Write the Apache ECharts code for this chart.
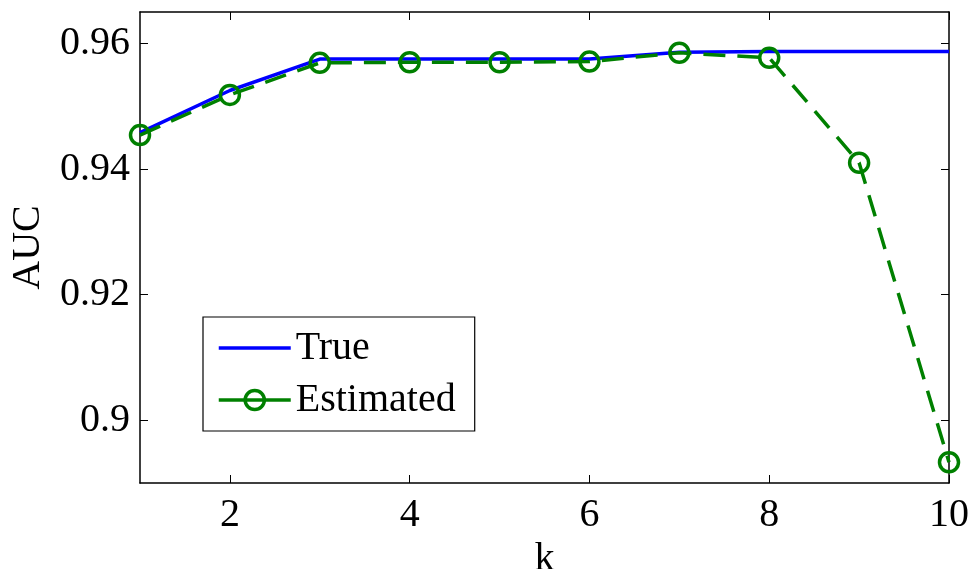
<!DOCTYPE html>
<html>
<head>
<meta charset="utf-8">
<script src="https://cdn.jsdelivr.net/npm/echarts@6/dist/echarts.min.js"></script>
<style>
html,body{margin:0;padding:0;background:#fff;}
#c{width:972px;height:569px;}
</style>
</head>
<body>
<div id="c"></div>
<script>
var kValues = [1, 2, 3, 4, 5, 6, 7, 8, 9, 10];
var trueAUC = [0.9458, 0.9525, 0.9575, 0.9575, 0.9575, 0.9575, 0.9586, 0.9587, 0.9587, 0.9587];
var estimatedAUC = [0.9454, 0.9518, 0.9569, 0.9570, 0.9570, 0.9571, 0.9585, 0.9577, 0.9410, 0.8933];
var xTicks = [2, 4, 6, 8, 10];
var yTicks = [0.9, 0.92, 0.94, 0.96];
var yTickLabels = ['0.9', '0.92', '0.94', '0.96'];

var FONT = 'Liberation Serif';
var chart = echarts.init(document.getElementById('c'), null, {renderer: 'canvas'});

function pairs(ys) { return kValues.map(function (k, i) { return [k, ys[i]]; }); }

var axisLineStyle = {show: true, onZero: false, lineStyle: {color: '#000', width: 1.5}};

chart.setOption({
  animation: false,
  backgroundColor: '#fff',
  grid: {left: 140, right: 23, top: 12, bottom: 86, containLabel: false, outerBoundsMode: 'none'},
  legend: {
    orient: 'vertical',
    left: 203, top: 317,
    borderColor: '#000', borderWidth: 1.2,
    padding: [11, 19, 11, 14],
    itemWidth: 72, itemHeight: 24, itemGap: 12,
    textStyle: {fontFamily: FONT, fontSize: 40, color: '#000'},
    data: [
      {name: 'True', itemStyle: {opacity: 0, color: 'transparent', borderColor: 'transparent'}, lineStyle: {width: 3.5}},
      {name: 'Estimated', lineStyle: {type: 'solid', width: 3.5}, itemStyle: {borderWidth: 3.5}}
    ]
  },
  xAxis: [{
    type: 'value', min: 1, max: 10,
    name: 'k', nameLocation: 'middle', nameGap: 50,
    nameTextStyle: {fontFamily: FONT, fontSize: 40, color: '#000'},
    axisLine: axisLineStyle,
    axisTick: {show: true, inside: true, length: 8, customValues: xTicks, lineStyle: {color: '#000', width: 1}},
    axisLabel: {customValues: xTicks, margin: 12, fontFamily: FONT, fontSize: 40, color: '#000'},
    splitLine: {show: false}
  }, {
    type: 'value', min: 1, max: 10, position: 'top',
    axisLine: axisLineStyle,
    axisTick: {show: true, inside: true, length: 8, customValues: xTicks, lineStyle: {color: '#000', width: 1}},
    axisLabel: {show: false},
    splitLine: {show: false}
  }],
  yAxis: [{
    type: 'value', min: 0.89, max: 0.965,
    name: 'AUC', nameLocation: 'middle', nameGap: 92,
    nameTextStyle: {fontFamily: FONT, fontSize: 40, color: '#000'},
    axisLine: axisLineStyle,
    axisTick: {show: true, inside: true, length: 8, customValues: yTicks, lineStyle: {color: '#000', width: 1}},
    axisLabel: {
      customValues: yTicks, margin: 10, fontFamily: FONT, fontSize: 40, color: '#000',
      formatter: function (v) {
        var i = yTicks.findIndex(function (t) { return Math.abs(t - v) < 1e-9; });
        return i >= 0 ? yTickLabels[i] : '';
      }
    },
    splitLine: {show: false}
  }, {
    type: 'value', min: 0.89, max: 0.965, position: 'right',
    axisLine: axisLineStyle,
    axisTick: {show: true, inside: true, length: 8, customValues: yTicks, lineStyle: {color: '#000', width: 1}},
    axisLabel: {show: false},
    splitLine: {show: false}
  }],
  series: [{
    name: 'True', type: 'line',
    data: pairs(trueAUC),
    showSymbol: false, symbol: 'none',
    lineStyle: {color: '#0000ff', width: 3.5},
    itemStyle: {color: '#0000ff'},
    z: 2
  }, {
    name: 'Estimated', type: 'line',
    data: pairs(estimatedAUC),
    symbol: 'circle', symbolSize: 19, showAllSymbol: true,
    lineStyle: {color: '#008000', width: 3.5, type: [22, 12]},
    itemStyle: {color: 'transparent', borderColor: '#008000', borderWidth: 3.5, opacity: 1},
    emphasis: {disabled: true},
    z: 3
  }]
});
</script>
</body>
</html>
